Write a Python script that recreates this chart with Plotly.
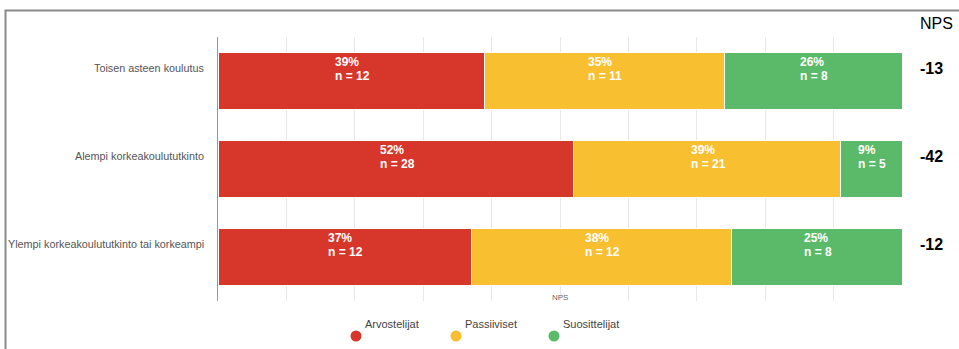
import plotly.graph_objects as go

categories = ["Toisen asteen koulutus", "Alempi korkeakoulututkinto", "Ylempi korkeakoulututkinto tai korkeampi"]
series_names = ["Arvostelijat", "Passiiviset", "Suosittelijat"]
pct_arvostelijat = [39, 52, 37]
pct_passiiviset = [35, 39, 38]
pct_suosittelijat = [26, 9, 25]
n_arvostelijat = [12, 28, 12]
n_passiiviset = [11, 21, 12]
n_suosittelijat = [8, 5, 8]
nps_values = [-13, -42, -12]
x_ticks = [0, 10, 20, 30, 40, 50, 60, 70, 80, 90, 100]

colors = ["#D7372B", "#F8BF31", "#5BBA69"]
pcts = [pct_arvostelijat, pct_passiiviset, pct_suosittelijat]
ns = [n_arvostelijat, n_passiiviset, n_suosittelijat]

W, H = 959, 349
L, R, T, B = 218, 57, 37, 48
pw, ph = W - L - R, H - T - B
FONT = "Liberation Sans, Arial"


def px_x(p):
    return (p - L) / pw


def px_y(p):
    return (H - B - p) / ph


# approximate bold 12px text widths (for left-aligned centered block)
CW = {"n": 7.3, " ": 3.3, "=": 7.0, "%": 10.7}


def text_w(s):
    return sum(CW.get(c, 6.7) for c in s)


fig = go.Figure()
for name, vals, col in zip(series_names, pcts, colors):
    fig.add_trace(go.Bar(
        y=categories, x=vals, name=name, orientation="h",
        marker=dict(color=col, line=dict(color="white", width=1)),
        showlegend=False, hoverinfo="skip",
    ))

annotations = []
for i, cat in enumerate(categories):
    base = 0
    for s in range(3):
        v = pcts[s][i]
        t1 = f"{v}%"
        t2 = f"n = {ns[s][i]}"
        half = max(text_w(t1), text_w(t2)) / 2
        for t, ys in ((t1, 19.5), (t2, 5.5)):
            annotations.append(dict(
                x=base + v / 2, y=cat, xref="x", yref="y",
                text=f"<b>{t}</b>", showarrow=False,
                xanchor="left", xshift=-half - 1, yanchor="middle", yshift=ys,
                font=dict(color="white", size=12, family=FONT),
            ))
        base += v
    annotations.append(dict(
        x=0, y=cat, xref="paper", yref="y", text=cat, showarrow=False,
        xanchor="right", xshift=-12, yshift=13,
        font=dict(color="#555555", size=10.8, family=FONT),
    ))
    annotations.append(dict(
        x=px_x(918), y=cat, xref="paper", yref="y", text=f"<b>{nps_values[i]}</b>",
        showarrow=False, xanchor="left", yshift=13,
        font=dict(color="black", size=16, family=FONT),
    ))

annotations.append(dict(
    x=px_x(918), y=px_y(24), xref="paper", yref="paper", text="NPS",
    showarrow=False, xanchor="left", yanchor="middle",
    font=dict(color="black", size=16, family=FONT),
))
annotations.append(dict(
    x=0.5, y=px_y(297), xref="paper", yref="paper", text="NPS",
    showarrow=False, xanchor="center", yanchor="middle",
    font=dict(color="#666666", size=8, family=FONT),
))

shapes = []
leg_marker_x = [356, 456, 554]
for name, col, mx in zip(series_names, colors, leg_marker_x):
    shapes.append(dict(
        type="circle", xref="paper", yref="paper", xsizemode="pixel", ysizemode="pixel",
        xanchor=px_x(mx), yanchor=px_y(336), x0=-5.5, x1=5.5, y0=-5.5, y1=5.5,
        fillcolor=col, line=dict(width=0),
    ))
    annotations.append(dict(
        x=px_x(mx + 7), y=px_y(324), xref="paper", yref="paper", text=name,
        showarrow=False, xanchor="left", yanchor="middle",
        font=dict(color="#444444", size=11, family=FONT),
    ))

shapes.append(dict(
    type="rect", xref="paper", yref="paper",
    x0=px_x(5.5), x1=px_x(1100), y0=px_y(500), y1=px_y(10.5),
    line=dict(color="#8a8a8a", width=2), fillcolor="rgba(0,0,0,0)", layer="above",
))

fig.update_layout(
    width=W, height=H, barmode="stack", bargap=0.36,
    margin=dict(l=L, r=R, t=T, b=B),
    paper_bgcolor="white", plot_bgcolor="white",
    xaxis=dict(range=[0, 100], tickvals=x_ticks, showticklabels=False,
               showgrid=True, gridcolor="#e8e8e8", gridwidth=1, zeroline=False,
               fixedrange=True),
    yaxis=dict(categoryorder="array", categoryarray=categories, autorange="reversed",
               showticklabels=False, showgrid=False, showline=True,
               linecolor="#999999", linewidth=1, zeroline=False, ticks=""),
    annotations=annotations, shapes=shapes,
    font=dict(family=FONT),
)

fig.write_html("out.html")
